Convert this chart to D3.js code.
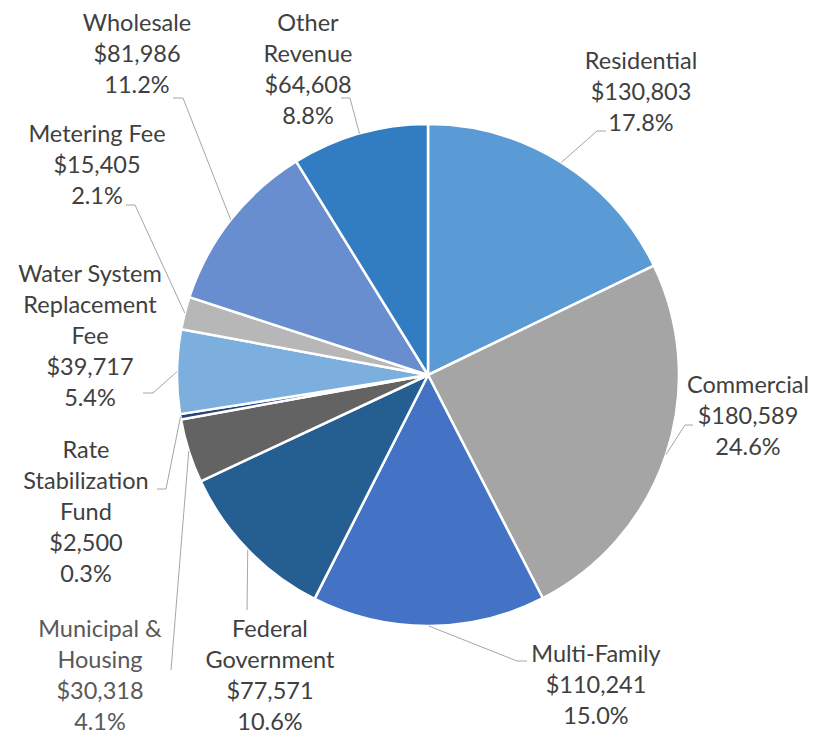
<!DOCTYPE html>
<html><head><meta charset="utf-8">
<script src="https://cdn.jsdelivr.net/npm/d3@7"></script>
<style>html,body{margin:0;padding:0;background:#fff;}svg{display:block;}</style>
</head><body>
<svg id="chart" width="823" height="736"></svg>
<script>
// ---- data ----
const categories = ["Residential","Commercial","Multi-Family","Federal Government","Municipal & Housing","Rate Stabilization Fund","Water System Replacement Fee","Metering Fee","Wholesale","Other Revenue"];
const values = [130803,180589,110241,77571,30318,2500,39717,15405,81986,64608];
const percentLabels = ["17.8%","24.6%","15.0%","10.6%","4.1%","0.3%","5.4%","2.1%","11.2%","8.8%"];
const nameLines = [["Residential"],["Commercial"],["Multi-Family"],["Federal","Government"],["Municipal &","Housing"],["Rate","Stabilization","Fund"],["Water System","Replacement","Fee"],["Metering Fee"],["Wholesale"],["Other","Revenue"]];
const colors = ["#5B9BD5","#A5A5A5","#4472C4","#255E91","#636363","#264478","#7CAFDD","#B7B7B7","#698ED0","#327DC2"];

// ---- layout (label anchor: center x, first baseline y; leader: elbow & end) ----
const labelLayout = [
  {x:641, y:69,  elbow:[597,131], end:[606,131]},
  {x:748, y:393, elbow:[685,425], end:[693,425]},
  {x:596, y:662, elbow:[517,661], end:[527,661]},
  {x:270, y:637, elbow:[247,610], end:[247,610]},
  {x:100, y:637, elbow:[171,670], end:[171,670], color:"#595959"},
  {x:86,  y:458, elbow:[166,489], end:[157,489]},
  {x:90,  y:282, elbow:[153,393], end:[143,393]},
  {x:97,  y:142, elbow:[135,205], end:[126,205]},
  {x:137, y:31,  elbow:[183,98],  end:[173,98]},
  {x:308, y:31,  elbow:[350,98],  end:[341,98]}
];

const cx = 428, cy = 375, R = 251, lineH = 31;
const svg = d3.select("#chart");
const g = svg.append("g").attr("transform", `translate(${cx},${cy})`);

const pie = d3.pie().sort(null).value(d => d);
const arcs = pie(values);
const arc = d3.arc().innerRadius(0).outerRadius(R);

g.selectAll("path.slice").data(arcs).enter().append("path")
  .attr("class","slice")
  .attr("d", arc)
  .attr("fill", (d,i) => colors[i])
  .attr("stroke", "#fff").attr("stroke-width", 2.5).attr("stroke-linejoin","round");

// leader lines
arcs.forEach((d,i) => {
  const a = (d.startAngle + d.endAngle)/2;
  const sx = cx + R*Math.sin(a), sy = cy - R*Math.cos(a);
  const L = labelLayout[i];
  svg.append("path")
    .attr("d", d3.line()([[sx,sy], L.elbow, L.end]))
    .attr("fill","none").attr("stroke","#A6A6A6").attr("stroke-width",1);
});

// labels
arcs.forEach((d,i) => {
  const L = labelLayout[i];
  const lines = nameLines[i].concat(["$" + d3.format(",")(values[i]), percentLabels[i]]);
  const t = svg.append("text")
    .attr("text-anchor","middle")
    .attr("font-family","Lato, 'Open Sans', sans-serif")
    .attr("font-size", 23.5)
    .attr("fill", L.color || "#404040");
  lines.forEach((s,k) => {
    t.append("tspan").attr("x", L.x).attr("y", L.y + k*lineH).text(s);
  });
});
</script>
</body></html>
